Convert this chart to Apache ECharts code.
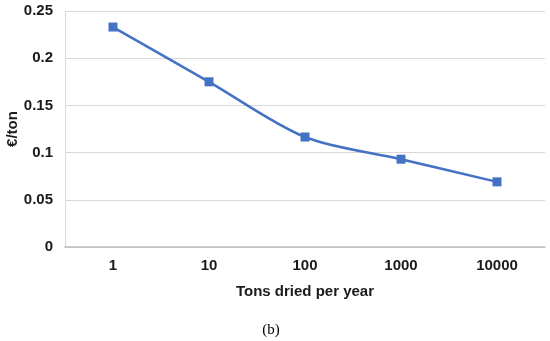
<!DOCTYPE html>
<html><head><meta charset="utf-8">
<script src="https://cdn.jsdelivr.net/npm/echarts@6/dist/echarts.min.js"></script>
<style>html,body{margin:0;padding:0;background:#fff}#c{width:550px;height:341px}</style>
</head><body><div id="c"></div>
<script>
var categories = ['1','10','100','1000','10000'];
var values = [0.233, 0.175, 0.1165, 0.093, 0.069];
var xName = 'Tons dried per year';
var yName = '€/ton';
var caption = '(b)';
var chart = echarts.init(document.getElementById('c'));
chart.setOption({
  animation:false,
  title:{text:caption,left:266,top:318,textAlign:'center',textStyle:{fontFamily:'Liberation Serif',fontSize:15,fontWeight:'normal',color:'#000'}},
  grid:{left:65,right:5,top:11,bottom:94,containLabel:false,outerBoundsMode:'none'},
  xAxis:{type:'category',data:categories,boundaryGap:true,
    axisLine:{lineStyle:{color:'#bfbfbf',width:1.5}},axisTick:{show:false},
    axisLabel:{fontFamily:'Liberation Sans',fontWeight:'bold',fontSize:15,color:'#1a1a1a',margin:11},
    name:xName,nameLocation:'middle',nameGap:37,nameMoveOverlap:false,
    nameTextStyle:{fontFamily:'Liberation Sans',fontWeight:'bold',fontSize:15,color:'#1a1a1a'}},
  yAxis:{type:'value',min:0,max:0.25,interval:0.05,
    axisLine:{show:true,lineStyle:{color:'#d9d9d9',width:1}},axisTick:{show:false},
    splitLine:{lineStyle:{color:'#d9d9d9',width:1}},
    axisLabel:{fontFamily:'Liberation Sans',fontWeight:'bold',fontSize:15,color:'#1a1a1a',margin:12},
    name:yName,nameLocation:'middle',nameGap:45,nameRotate:90,nameMoveOverlap:false,
    nameTextStyle:{fontFamily:'Liberation Sans',fontWeight:'bold',fontSize:15,color:'#1a1a1a'}},
  series:[{type:'line',data:values,smooth:0.3,symbol:'rect',symbolSize:9,
    lineStyle:{color:'#4472C4',width:2.5},itemStyle:{color:'#4472C4'}}]
});
</script></body></html>
